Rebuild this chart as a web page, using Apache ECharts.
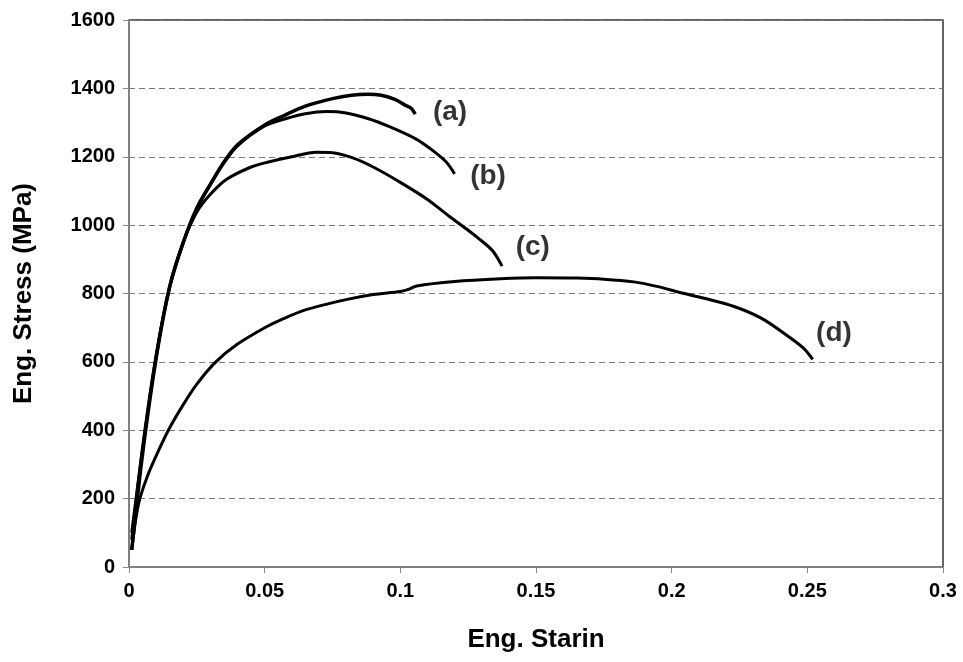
<!DOCTYPE html>
<html>
<head>
<meta charset="utf-8">
<script src="https://cdn.jsdelivr.net/npm/echarts@6/dist/echarts.min.js"></script>
<style>
  html, body { margin: 0; padding: 0; background: #fff; }
  #main { width: 963px; height: 662px; }
</style>
</head>
<body>
<div id="main"></div>
<script>
var chartDom = document.getElementById('main');
var myChart = echarts.init(chartDom);
var option;

// strain, stress (MPa)
var curveA = [
    [0.001, 50], [0.005, 330], [0.01, 610], [0.015, 820], [0.02, 950],
    [0.025, 1050], [0.03, 1120], [0.035, 1185], [0.04, 1235], [0.05, 1293],
    [0.057, 1320], [0.065, 1348], [0.075, 1370], [0.082, 1380], [0.088, 1383],
    [0.093, 1380], [0.098, 1368], [0.102, 1350], [0.104, 1342], [0.1055, 1325]
];
var curveB = [
    [0.001, 100], [0.005, 345], [0.01, 615], [0.015, 818], [0.02, 948],
    [0.025, 1048], [0.03, 1118], [0.035, 1182], [0.04, 1232], [0.05, 1290],
    [0.058, 1312], [0.065, 1326], [0.073, 1332], [0.08, 1328], [0.088, 1312],
    [0.096, 1288], [0.106, 1251], [0.112, 1218], [0.117, 1184], [0.12, 1150]
];
var curveC = [
    [0.001, 80], [0.005, 350], [0.01, 620], [0.015, 822], [0.02, 950],
    [0.025, 1038], [0.03, 1090], [0.036, 1134], [0.045, 1170], [0.051, 1184],
    [0.06, 1200], [0.069, 1213], [0.075, 1212], [0.082, 1198], [0.09, 1170],
    [0.1, 1125], [0.11, 1075], [0.118, 1026], [0.125, 985], [0.129, 960],
    [0.134, 925], [0.1375, 880]
];
var curveD = [
    [0.001, 50], [0.0025, 140], [0.004, 200], [0.007, 270], [0.01, 325],
    [0.0145, 400], [0.02, 475], [0.025, 535], [0.032, 600], [0.04, 652],
    [0.05, 700], [0.056, 723], [0.065, 752], [0.08, 782], [0.09, 797],
    [0.1, 806], [0.103, 812], [0.106, 822], [0.12, 835], [0.137, 843],
    [0.15, 846], [0.165, 845], [0.175, 842], [0.186, 834], [0.195, 820],
    [0.203, 803], [0.212, 786], [0.223, 762], [0.233, 728], [0.241, 686],
    [0.2485, 641], [0.252, 607]
];
var curveNames = ['(a)', '(b)', '(c)', '(d)'];
// label anchor points in data coordinates
var labelPoints = [
    [0.1185, 1330], [0.1325, 1140], [0.149, 935], [0.26, 682]
];

var xTicks = [0, 0.05, 0.1, 0.15, 0.2, 0.25, 0.3];

function lineSeries(name, data, width) {
    return {
        name: name,
        type: 'line',
        data: data,
        smooth: 0.3,
        showSymbol: false,
        symbol: 'none',
        lineStyle: { color: '#000', width: width },
        z: 5
    };
}

option = {
    backgroundColor: '#fff',
    animation: false,
    textStyle: { fontFamily: 'Liberation Sans, Arial, sans-serif' },
    grid: {
        left: 129,
        right: 20,
        top: 20,
        bottom: 95,
        show: true,
        borderColor: '#333',
        borderWidth: 1.5
    },
    xAxis: {
        type: 'value',
        min: 0,
        max: 0.3,
        interval: 0.05,
        name: 'Eng. Starin',
        nameLocation: 'middle',
        nameGap: 60,
        nameTextStyle: { fontSize: 26, fontWeight: 'bold', color: '#000' },
        axisLine: { show: true, lineStyle: { color: '#888', width: 1.5 } },
        axisTick: { show: true, inside: false, length: 6, lineStyle: { color: '#888' } },
        axisLabel: {
            fontSize: 20, fontWeight: 'bold', color: '#000', margin: 14,
            formatter: function (v) {
                var t = xTicks.find(function (x) { return Math.abs(x - v) < 1e-9; });
                return t === undefined ? '' : String(t);
            }
        },
        splitLine: { show: false }
    },
    yAxis: {
        type: 'value',
        min: 0,
        max: 1600,
        interval: 200,
        name: 'Eng. Stress (MPa)',
        nameLocation: 'middle',
        nameGap: 92,
        nameTextStyle: { fontSize: 26, fontWeight: 'bold', color: '#000' },
        axisLine: { show: true, lineStyle: { color: '#888', width: 1.5 } },
        axisTick: { show: true, inside: false, length: 6, lineStyle: { color: '#888' } },
        axisLabel: {
            fontSize: 20, fontWeight: 'bold', color: '#000', margin: 14,
            formatter: function (v) { return String(v); }
        },
        splitLine: {
            show: true,
            lineStyle: { color: '#777', type: [6, 4], width: 1 }
        }
    },
    series: [
        lineSeries('a', curveA, 3.5),
        lineSeries('b', curveB, 3),
        lineSeries('c', curveC, 3),
        lineSeries('d', curveD, 3),
        {
            type: 'scatter',
            symbolSize: 1,
            silent: true,
            itemStyle: { color: 'transparent' },
            data: labelPoints.map(function (p, i) {
                return { value: p, name: curveNames[i] };
            }),
            label: {
                show: true,
                position: [0, 0],
                align: 'center',
                verticalAlign: 'middle',
                formatter: '{b}',
                fontSize: 28,
                fontWeight: 'bold',
                color: '#000',
                textBorderWidth: 0
            },
            z: 6
        }
    ]
};

option && myChart.setOption(option);
</script>
</body>
</html>
